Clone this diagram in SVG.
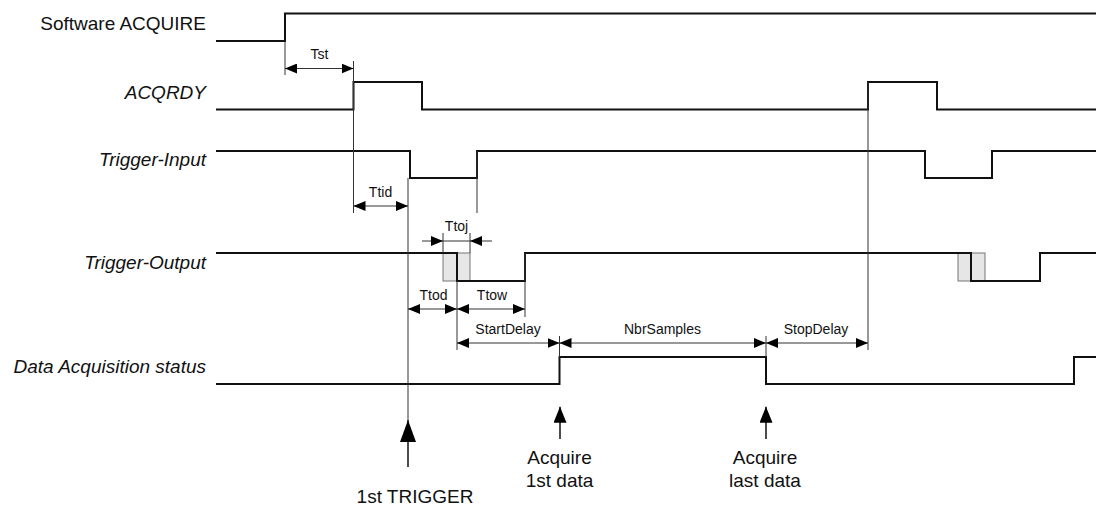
<svg xmlns="http://www.w3.org/2000/svg" width="1096" height="506" viewBox="0 0 1096 506">
<style>
.sig{fill:none;stroke:#111;stroke-width:2;stroke-linejoin:miter}
.thin{fill:none;stroke:#333;stroke-width:1}
.dim{fill:none;stroke:#333;stroke-width:1;marker-start:url(#ah);marker-end:url(#ah)}
.one{fill:none;stroke:#333;stroke-width:1;marker-end:url(#ah)}
.box{fill:#e6e6e6;stroke:#777;stroke-width:1}
.lbl{font-family:"Liberation Sans",Arial,sans-serif;font-size:19px;fill:#111;text-anchor:end}
.it{font-style:italic}
.sm{font-family:"Liberation Sans",Arial,sans-serif;font-size:14px;fill:#111;text-anchor:middle}
.big{font-family:"Liberation Sans",Arial,sans-serif;font-size:19px;fill:#111;text-anchor:middle}
</style>
<defs>
<marker id="ah" viewBox="0 0 12 10" refX="12" refY="5" markerWidth="12" markerHeight="10" markerUnits="userSpaceOnUse" orient="auto-start-reverse"><path d="M0,0 L12,5 L0,10 z" fill="#000"/></marker>
<marker id="ahBig" viewBox="0 0 22 16" refX="22" refY="8" markerWidth="22" markerHeight="16" markerUnits="userSpaceOnUse" orient="auto"><path d="M0,0 L22,8 L0,16 z" fill="#000"/></marker>
<marker id="ahMid" viewBox="0 0 16 13" refX="16" refY="6.5" markerWidth="16" markerHeight="13" markerUnits="userSpaceOnUse" orient="auto"><path d="M0,0 L16,6.5 L0,13 z" fill="#000"/></marker>
</defs>
<rect width="1096" height="506" fill="#fff"/>

<g id="software-acquire">
<text class="lbl" x="206" y="30">Software ACQUIRE</text>
<path class="sig" d="M216,41 H285 V13.5 H1096"/>
</g>
<g id="acqrdy">
<text class="lbl it" x="206" y="99">ACQRDY</text>
<path class="sig" d="M216,109.5 H353.5 V82 H422 V109.5 H868 V82 H937 V109.5 H1096"/>
</g>
<g id="trigger-input">
<text class="lbl it" x="206" y="166">Trigger-Input</text>
<path class="sig" d="M216,151 H410 V178 H477 V151 H925 V178 H992 V151 H1096"/>
</g>
<g id="trigger-output">
<text class="lbl it" x="206" y="269">Trigger-Output</text>
<rect class="box" x="443" y="253" width="14" height="28"/>
<rect class="box" x="457" y="253" width="13" height="28"/>
<rect class="box" x="958" y="253" width="13" height="28"/>
<rect class="box" x="971" y="253" width="14" height="28"/>
<path class="sig" d="M216,253 H457 V281 H525 V253 H971 V281 H1040 V253 H1096"/>
</g>
<g id="data-acquisition-status">
<text class="lbl it" x="206" y="373">Data Acquisition status</text>
<path class="sig" d="M216,384 H559.5 V357 H766 V384 H1074 V357 H1096"/>
</g>

<g id="connectors">
<!-- vertical reference lines -->
<line class="thin" x1="285" y1="41" x2="285" y2="75"/>
<line class="thin" x1="353.5" y1="61" x2="353.5" y2="213"/>
<line class="thin" x1="408" y1="178" x2="408" y2="420"/>
<line class="thin" x1="477" y1="151" x2="477" y2="213"/>
<line class="thin" x1="443" y1="233" x2="443" y2="253"/>
<line class="thin" x1="470" y1="233" x2="470" y2="253"/>
<line class="thin" x1="457" y1="281" x2="457" y2="350"/>
<line class="thin" x1="525" y1="253" x2="525" y2="317"/>
<line class="thin" x1="559.5" y1="336" x2="559.5" y2="357"/>
<line class="thin" x1="766" y1="336" x2="766" y2="357"/>
<line class="thin" x1="868" y1="82" x2="868" y2="350"/>
<!-- dimension arrows -->
<line class="dim" x1="285" y1="68.5" x2="353.5" y2="68.5"/>
<line class="dim" x1="353.5" y1="206" x2="408" y2="206"/>
<line class="one" x1="422" y1="241" x2="443" y2="241"/>
<line class="one" x1="492" y1="241" x2="470" y2="241"/>
<line class="thin" x1="443" y1="241" x2="470" y2="241"/>
<line class="dim" x1="408" y1="309" x2="457" y2="309"/>
<line class="dim" x1="457" y1="309" x2="525" y2="309"/>
<line class="dim" x1="457" y1="343" x2="559.5" y2="343"/>
<line class="dim" x1="559.5" y1="343" x2="766" y2="343"/>
<line class="dim" x1="766" y1="343" x2="868" y2="343"/>
<!-- event arrows -->
<line x1="408" y1="467" x2="408" y2="420" stroke="#111" stroke-width="1.5" marker-end="url(#ahBig)"/>
<line x1="560" y1="439" x2="560" y2="406.7" stroke="#111" stroke-width="1.5" marker-end="url(#ahMid)"/>
<line x1="766" y1="439" x2="766" y2="406.7" stroke="#111" stroke-width="1.5" marker-end="url(#ahMid)"/>
</g>

<g id="labels">
<text class="sm" x="319.5" y="59">Tst</text>
<text class="sm" x="380.5" y="197">Ttid</text>
<text class="sm" x="456.5" y="231">Ttoj</text>
<text class="sm" x="433.5" y="300">Ttod</text>
<text class="sm" x="492" y="300">Ttow</text>
<text class="sm" x="508" y="334">StartDelay</text>
<text class="sm" x="662.5" y="334">NbrSamples</text>
<text class="sm" x="816" y="334">StopDelay</text>
<text class="big" x="559.5" y="464">Acquire</text>
<text class="big" x="559.5" y="487">1st data</text>
<text class="big" x="765" y="464">Acquire</text>
<text class="big" x="765" y="487">last data</text>
<text class="big" x="415" y="503">1st TRIGGER</text>
</g>
</svg>
